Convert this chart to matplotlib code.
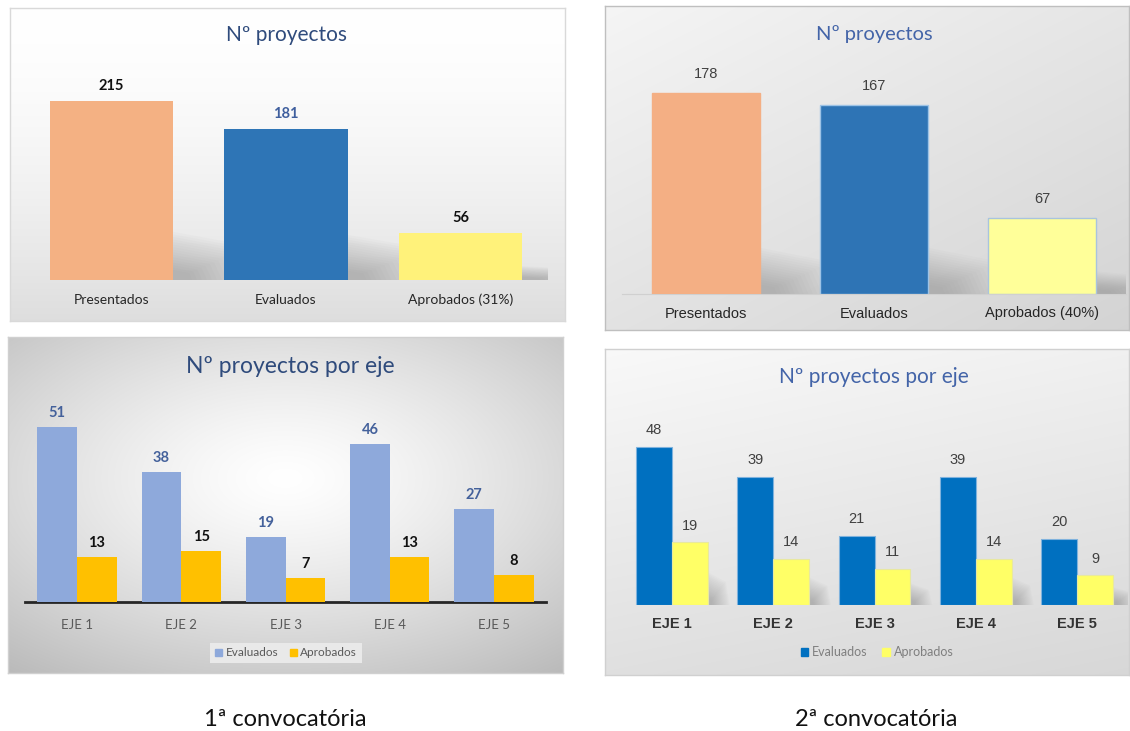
"""Recreate the two-call project summary (Nº proyectos / por eje)."""
import numpy as np
import matplotlib
matplotlib.use("Agg")
import matplotlib.pyplot as plt
from matplotlib.patches import Patch

W, H = 1130, 731
CAL = "Lato"              # closest thing to Calibri available
ARIAL = "Liberation Sans"

# ---- data ----
cats_1 = ["Presentados", "Evaluados", "Aprobados (31%)"]
totals_1 = [215, 181, 56]
cats_2 = ["Presentados", "Evaluados", "Aprobados (40%)"]
totals_2 = [178, 167, 67]

ejes = ["EJE 1", "EJE 2", "EJE 3", "EJE 4", "EJE 5"]
evaluados_1 = [51, 38, 19, 46, 27]
aprobados_1 = [13, 15, 7, 13, 8]
evaluados_2 = [48, 39, 21, 39, 20]
aprobados_2 = [19, 14, 11, 14, 9]

captions = ["1ª convocatória", "2ª convocatória"]


def px_axes(fig, x0, y0, x1, y1, **kw):
    """Axes placed by pixel box (top-left origin)."""
    return fig.add_axes([x0 / W, 1 - y1 / H, (x1 - x0) / W, (y1 - y0) / H], **kw)


def panel_bg(fig, box, kind, edge):
    ax = px_axes(fig, *box)
    yy, xx = np.mgrid[0:1:240j, 0:1:360j]
    if kind == "top_left":
        t = np.clip(yy, 0, 1) ** 1.6
        g = 1.0 - 0.13 * t
    elif kind == "top_right":
        t = np.clip(0.45 * xx + 0.55 * yy, 0, 1)
        g = 0.96 - 0.13 * t
    elif kind == "radial":
        t = np.clip(np.hypot((xx - 0.5) * 1.25, (yy - 0.42) * 1.35), 0, 1)
        g = 1.0 - 0.27 * t ** 1.3
    else:
        t = np.clip(0.25 * xx + 0.75 * yy, 0, 1)
        g = 0.975 - 0.13 * t
    ax.imshow(np.dstack([g, g, g]), extent=[0, 1, 0, 1], aspect="auto",
              interpolation="bilinear")
    ax.set_xticks([])
    ax.set_yticks([])
    for s in ax.spines.values():
        s.set_color(edge)
        s.set_linewidth(1)
    return ax


def data_axes(fig, box, xlim, ylim):
    ax = px_axes(fig, *box, facecolor="none")
    ax.set_xlim(*xlim)
    ax.set_ylim(*ylim)
    ax.set_yticks([])
    for s in ax.spines.values():
        s.set_visible(False)
    return ax


def add_shadows(ax, xs, vals, width, depth, frac, cap):
    # soft cast shadow to the right of each bar, built from faint layers
    for x, v in zip(xs, vals):
        xr = x + width / 2
        h = min(v * frac, cap)
        n = 16
        for k in range(n):
            f = 1 - k / n * 0.85
            ax.fill([xr, xr, xr + depth * f, xr + depth * f * 1.2],
                    [0, h * f, h * f * 0.7, 0],
                    color="#6f6f6f", alpha=0.028, lw=0, zorder=1)


fig = plt.figure(figsize=(W / 100, H / 100), dpi=100)
fig.patch.set_facecolor("white")

# ---------------- top-left: Nº proyectos (1ª) ----------------
panel_bg(fig, (10, 8, 565, 321), "top_left", "#D9D9D9")
ax = data_axes(fig, (24.25, 72, 547.75, 280), (-0.5, 2.5), (0, 250))
x = np.arange(len(cats_1))
add_shadows(ax, x, totals_1, 0.705, 0.45, 0.3, 58)
bars = ax.bar(x, totals_1, width=0.705, color=["#F4B183", "#2E75B6", "#FFF27A"],
              zorder=3)
labels = ax.bar_label(bars, padding=6, fontsize=10.5, fontweight="bold",
                      family=CAL)
for t, c in zip(labels, ["#111111", "#3F5F9E", "#111111"]):
    t.set_color(c)
ax.set_xticks(x, cats_1, family=CAL, fontsize=10, color="#262626")
ax.tick_params(axis="x", length=0, pad=10)
fig.text(287 / W, 1 - 35 / H, "Nº proyectos", ha="center", va="center",
         fontsize=15, color="#2F4B7C", family=CAL)

# ---------------- top-right: Nº proyectos (2ª) ----------------
panel_bg(fig, (605, 6, 1129, 330), "top_right", "#BFBFBF")
ax = data_axes(fig, (622, 68.2, 1126, 294), (-0.5, 2.5), (0, 200))
x = np.arange(len(cats_2))
add_shadows(ax, x, totals_2, 0.64, 0.42, 0.3, 41)
bars = ax.bar(x, totals_2, width=0.64, color=["#F4AF84", "#2E74B5", "#FFFF99"],
              edgecolor=["#F4AF84", "#9DC3E6", "#A9C4DE"], linewidth=1, zorder=3)
ax.bar_label(bars, padding=9, fontsize=10.5, color="#404040", family=ARIAL)
ax.spines["bottom"].set_visible(True)
ax.spines["bottom"].set_color("#D0D0D0")
ax.set_xticks(x, cats_2, family=ARIAL, fontsize=10.5, color="#262626")
ax.tick_params(axis="x", length=0, pad=9)
fig.text(874 / W, 1 - 34 / H, "Nº proyectos", ha="center", va="center",
         fontsize=14.5, color="#4364A8", family=CAL)

# ---------------- bottom-left: por eje (1ª) ----------------
panel_bg(fig, (8, 337, 563, 673), "radial", "#D0D0D0")
ax = data_axes(fig, (24.9, 396, 546.1, 602), (-0.5, 4.5), (0, 60))
x = np.arange(len(ejes))
w = 0.38
b1 = ax.bar(x - w / 2, evaluados_1, width=w, color="#8EA9DB", zorder=3)
b2 = ax.bar(x + w / 2, aprobados_1, width=w, color="#FFC000", zorder=3)
ax.bar_label(b1, padding=5, fontsize=10.5, fontweight="bold", color="#44619B",
             family=CAL)
ax.bar_label(b2, padding=5, fontsize=10.5, fontweight="bold", color="#111111",
             family=CAL)
ax.spines["bottom"].set_visible(True)
ax.spines["bottom"].set_color("#262626")
ax.spines["bottom"].set_linewidth(2)
ax.set_xticks(x, ejes, family=CAL, fontsize=9.5, color="#595959")
ax.tick_params(axis="x", length=0, pad=12)
fig.text(290 / W, 1 - 367 / H, "Nº proyectos por eje", ha="center", va="center",
         fontsize=16.5, color="#2F4B7C", family=CAL)
ax.legend(handles=[Patch(color="#8EA9DB"), Patch(color="#FFC000")],
          labels=["Evaluados", "Aprobados"], loc="center",
          bbox_to_anchor=(286 / W, 1 - 653 / H), bbox_transform=fig.transFigure,
          ncol=2, frameon=True, fancybox=False, facecolor="#E9E9E9",
          edgecolor="none", framealpha=1, handlelength=0.6,
          handleheight=0.6, handletextpad=0.3, columnspacing=1.0,
          labelcolor="#595959", prop={"family": CAL, "size": 8.5})

# ---------------- bottom-right: por eje (2ª) ----------------
panel_bg(fig, (605, 349, 1129, 675), "bottom_right", "#D0D0D0")
ax = data_axes(fig, (621, 424, 1128, 605), (-0.5, 4.5), (0, 55))
w = 0.355
add_shadows(ax, x + w / 2, aprobados_2, w, 0.18, 0.6, 10)
b1 = ax.bar(x - w / 2, evaluados_2, width=w, color="#0070C0", edgecolor="#7FB2DD",
            linewidth=0.8, zorder=3)
b2 = ax.bar(x + w / 2, aprobados_2, width=w, color="#FFFF66", edgecolor="#E8E8A0",
            linewidth=0.8, zorder=3)
ax.bar_label(b1, padding=7, fontsize=10.5, color="#404040", family=ARIAL)
ax.bar_label(b2, padding=7, fontsize=10.5, color="#404040", family=ARIAL)
ax.set_xticks(x, ejes, family=ARIAL, fontsize=10.5, fontweight="bold",
              color="#333333")
ax.tick_params(axis="x", length=0, pad=9)
fig.text(874 / W, 1 - 377 / H, "Nº proyectos por eje", ha="center", va="center",
         fontsize=15, color="#4364A8", family=CAL)
ax.legend(handles=[Patch(color="#0070C0"), Patch(color="#FFFF66")],
          labels=["Evaluados", "Aprobados"], loc="center",
          bbox_to_anchor=(877 / W, 1 - 652 / H), bbox_transform=fig.transFigure,
          ncol=2, frameon=False, handlelength=0.6, handleheight=0.6,
          handletextpad=0.3, columnspacing=1.2, labelcolor="#7F7F7F",
          prop={"family": CAL, "size": 9})

# ---------------- captions ----------------
for cx, txt in zip([285, 876], captions):
    fig.text(cx / W, 1 - 720 / H, txt, ha="center", va="center", fontsize=17,
             color="#111111", family=CAL)

fig.savefig("out.png", dpi=100)
print("Saved: out.png")
